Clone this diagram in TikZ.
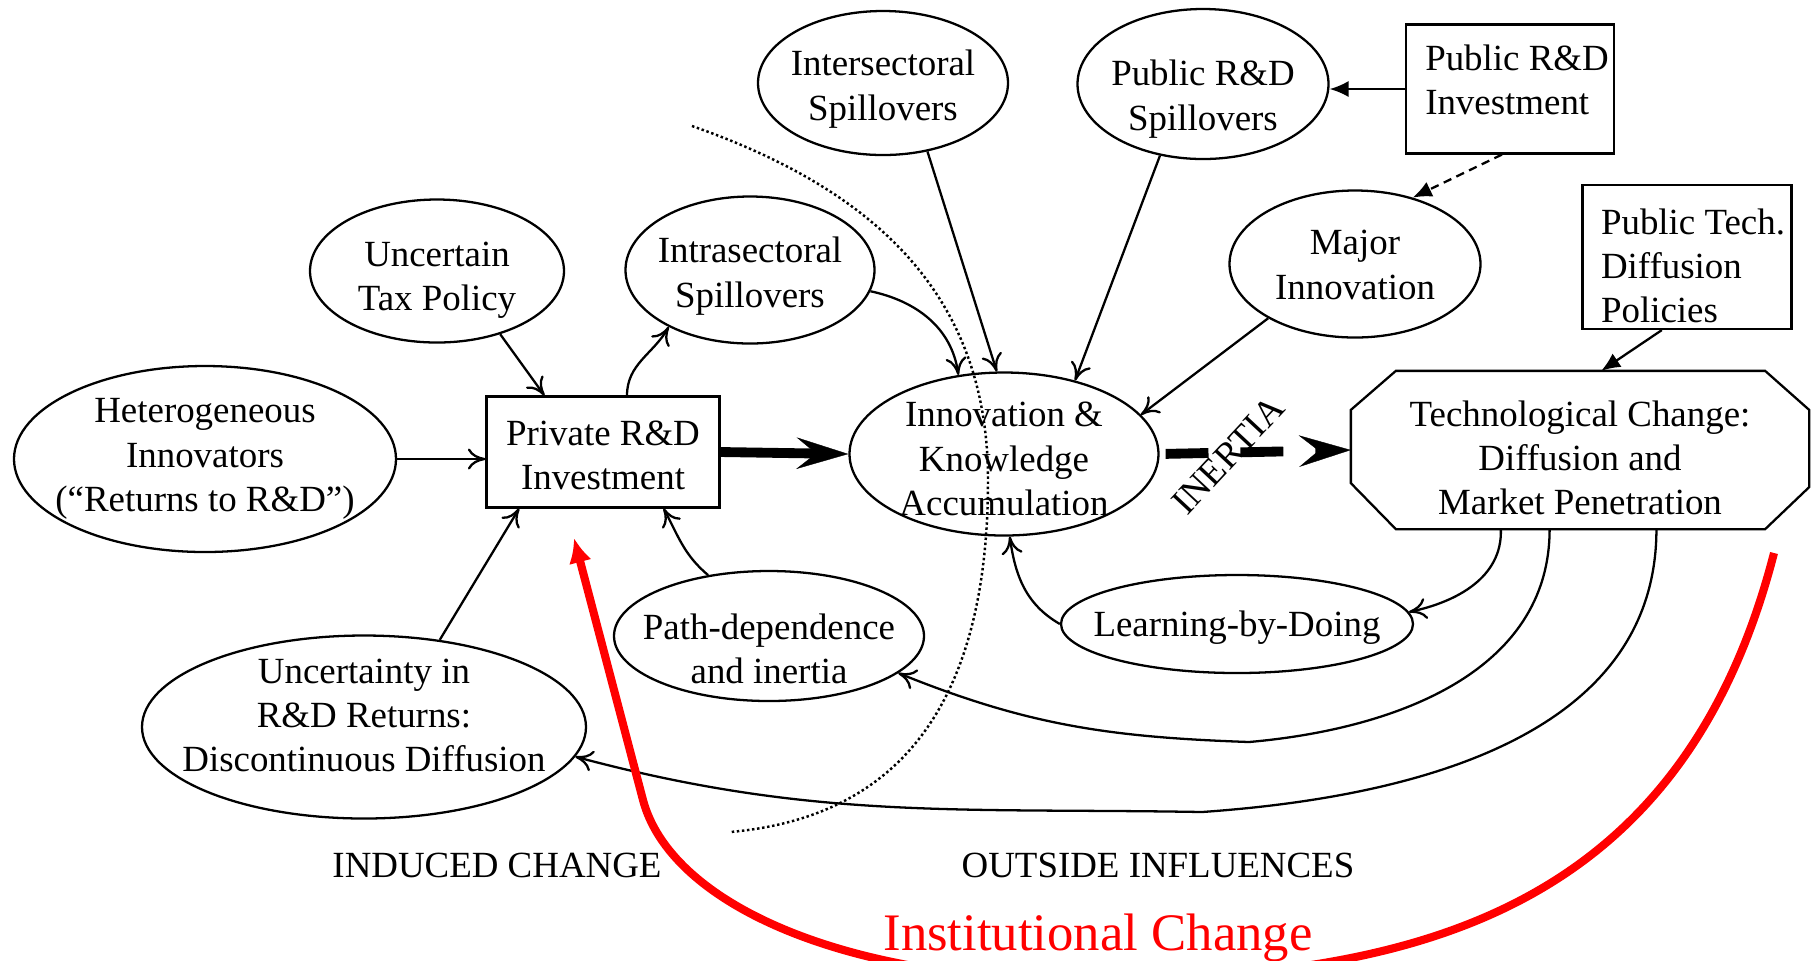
\documentclass[tikz,border=0pt]{standalone}
\usepackage{fontspec}
\setmainfont{Liberation Serif}
\usetikzlibrary{shapes,arrows.meta,calc,positioning}

\tikzset{
  bubble/.style={ellipse, draw, line width=0.65pt, inner sep=0pt},
  sqbox/.style={rectangle, draw, line width=0.6pt, inner sep=0pt},
  txt/.style={align=center, inner sep=0pt},
  link/.style={-{To[length=5pt,width=6pt]}, line width=0.65pt},
  feed/.style={-{Latex[length=5.4pt,width=4.6pt]}, line width=0.65pt},
  bigflow/.style={-{Stealth[length=14.8pt,width=9pt,inset=5.6pt,line width=0.1pt]}, line width=2.8pt},
  divider/.style={line width=0.7pt, dash pattern=on 0.7pt off 0.75pt},
  instit/.style={-{Latex[length=7pt,width=6.6pt]}, line width=2.3pt, red}
}

\begin{document}
\begin{tikzpicture}[font=\fontsize{10.5}{12.6}\selectfont, line width=0.65pt]

\useasboundingbox (0,0) rectangle (18.12,-9.60);

% left side: what drives private R&D
\node[bubble, minimum width=3.82cm, minimum height=1.86cm] (hetero) at (2.05,-4.59) {};
\node[bubble, minimum width=2.54cm, minimum height=1.43cm] (tax) at (4.37,-2.71) {};
\node[bubble, minimum width=2.49cm, minimum height=1.47cm] (intra) at (7.50,-2.70) {};
\node[sqbox, minimum width=2.33cm, minimum height=1.11cm] (priv) at (6.03,-4.52) {};
\node[bubble, minimum width=4.44cm, minimum height=1.83cm] (unc) at (3.64,-7.27) {};
\node[bubble, minimum width=3.10cm, minimum height=1.30cm] (path) at (7.69,-6.36) {};

% top: outside sources of knowledge
\node[bubble, minimum width=2.50cm, minimum height=1.44cm] (inter) at (8.83,-0.83) {};
\node[bubble, minimum width=2.51cm, minimum height=1.50cm] (pspill) at (12.03,-0.84) {};
\node[sqbox, minimum width=2.08cm, minimum height=1.29cm] (pinv) at (15.10,-0.89) {};
\node[bubble, minimum width=2.51cm, minimum height=1.47cm] (major) at (13.55,-2.64) {};
\node[sqbox, minimum width=2.09cm, minimum height=1.44cm] (ptech) at (16.87,-2.57) {};

% middle row
\node[bubble, minimum width=3.09cm, minimum height=1.63cm] (innov) at (10.04,-4.54) {};
\node[minimum width=4.56cm, minimum height=1.56cm, inner sep=0pt] (tech) at (15.80,-4.50) {};
\node[bubble, minimum width=3.52cm, minimum height=0.98cm] (learn) at (12.37,-6.24) {};

% octagon round the technological change node
\draw[line width=0.65pt] ($(tech.north west)+(0.45,0)$) -- ($(tech.north east)+(-0.44,0)$)
  -- ($(tech.north east)+(0,-0.39)$) -- ($(tech.south east)+(0,0.42)$)
  -- ($(tech.south east)+(-0.44,0)$) -- ($(tech.south west)+(0.45,0)$)
  -- ($(tech.south west)+(0,0.46)$) -- ($(tech.north west)+(0,-0.39)$) -- cycle;

% texts
\node[txt] (hetero-t) at (hetero) {Heterogeneous\\Innovators\\(``Returns to R\&D'')};
\node[txt] (tax-t) at ([yshift=-0.09cm]tax) {Uncertain\\Tax Policy};
\node[txt] (intra-t) at ([yshift=-0.06cm]intra) {Intrasectoral\\Spillovers};
\node[txt] (priv-t) at ([yshift=-0.035cm]priv) {Private R\&D\\Investment};
\node[txt] (unc-t) at ([yshift=0.115cm]unc) {Uncertainty in\\R\&D Returns:\\Discontinuous Diffusion};
\node[txt] (path-t) at ([yshift=-0.13cm]path) {Path-dependence\\and inertia};
\node[txt] (inter-t) at ([yshift=-0.06cm]inter) {Intersectoral\\Spillovers};
\node[txt] (pspill-t) at ([yshift=-0.15cm]pspill) {Public R\&D\\Spillovers};
\node[txt, align=left] (pinv-t) at ([xshift=0.07cm,yshift=0.09cm]pinv) {Public R\&D\\Investment};
\node[txt] (major-t) at ([yshift=-0.01cm]major) {Major\\Innovation};
\node[txt, align=left] (ptech-t) at ([xshift=0.06cm,yshift=-0.09cm]ptech) {Public Tech.\\Diffusion\\Policies};
\node[txt] (innov-t) at ([yshift=-0.05cm]innov) {Innovation \&\\Knowledge\\Accumulation};
\node[txt] (tech-t) at ([yshift=-0.08cm]tech) {Technological Change:\\Diffusion and\\Market Penetration};
\node[txt] (learn-t) at ([yshift=-0.035cm]learn) {Learning-by-Doing};

% labels
\node (induced) at (4.97,-8.655) {INDUCED CHANGE};
\node (outside) at (11.58,-8.655) {OUTSIDE INFLUENCES};
\node[rotate=47, inner sep=0pt] (inertia) at (12.28,-4.55) {INERTIA};
\node[anchor=base, text=red, font=\fontsize{15}{18}\selectfont] (instlabel) at (10.98,-9.50) {Institutional Change};

% bends and free ends
\coordinate (pbend) at (12.49,-7.42);
\coordinate (ubend) at (12.02,-8.12);
\coordinate (redstart) at (17.74,-5.53);
\coordinate (redtip) at (5.74,-5.38);

% boundary between induced change and outside influences
\draw[divider] (6.92,-1.26) .. controls (8.75,-1.90) and (9.88,-2.95) .. (9.88,-4.80)
  .. controls (9.88,-7.15) and (8.90,-8.18) .. (7.30,-8.32);

% arrows into private R&D
\draw[link] (hetero.east) -- (hetero.east -| priv.west);
\draw[link] (tax.-45) -- (priv.136);
\draw[link] (unc.49) -- (priv.-146);
\draw[link] (path.135) to[out=140,in=-62] (priv.-43);
\draw[link] (priv.67) to[out=90,in=-120] (intra.-145);

% arrows into innovation
\draw[link] (intra.-10) to[out=-12,in=98] (innov.120);
\draw[link] (inter.-57) -- (innov.95);
\draw[link] (pspill.-121) -- (innov.46);
\draw[link] (major.-148) -- (innov.16);
\draw[link] (learn.west) to[out=150,in=-82] (innov.-86);

% public policy
\draw[feed] (pinv.west) -- (pinv.west -| pspill.east);
\draw[feed, dash pattern=on 2.4pt off 1.6pt] (pinv.-97) -- (major.49);
\draw[feed] (ptech.-109) -- (tech.75);

% main flow
\draw[bigflow] (priv.east) -- (innov.west);
\draw[bigflow, dash pattern=on 12.2pt off 9.1pt, shorten <=1.7pt] (innov.east) -- (tech.west);

% feedback from diffusion
\draw[link] (tech.-135) to[out=-88,in=12] (learn.4);
\draw[link] (tech.-111) to[out=-90,in=5] (pbend) to[out=178,in=-22] (path.-16);
\draw[link] (tech.-46.5) to[out=-90,in=4] (ubend) to[out=179,in=-15] (unc.-8);

% institutional change
\draw[instit] (redstart) .. controls (16.79,-9.22) and (14.0,-9.8) .. (10.8,-9.8)
  .. controls (8.4,-9.8) and (6.70,-9.02) .. (6.43,-8.0) -- (redtip);

\end{tikzpicture}
\end{document}
